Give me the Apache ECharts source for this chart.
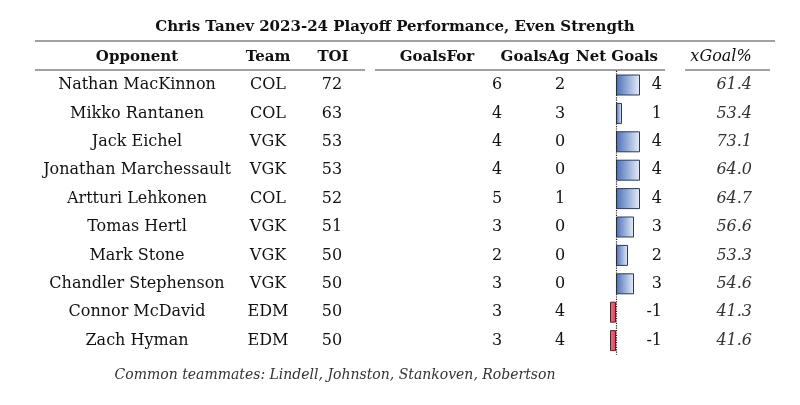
<!DOCTYPE html>
<html><head><meta charset="utf-8">
<script src="https://cdn.jsdelivr.net/npm/echarts@6/dist/echarts.min.js"></script>
<style>body{margin:0;background:#fff}#c{width:800px;height:405px}</style>
</head><body><div id="c"></div>
<script>
var opponents = ['Nathan MacKinnon', 'Mikko Rantanen', 'Jack Eichel', 'Jonathan Marchessault', 'Artturi Lehkonen', 'Tomas Hertl', 'Mark Stone', 'Chandler Stephenson', 'Connor McDavid', 'Zach Hyman'];
var teams = ['COL', 'COL', 'VGK', 'VGK', 'COL', 'VGK', 'VGK', 'VGK', 'EDM', 'EDM'];
var toi = [72, 63, 53, 53, 52, 51, 50, 50, 50, 50];
var goalsFor = [6, 4, 4, 4, 5, 3, 2, 3, 3, 3];
var goalsAg = [2, 3, 0, 0, 1, 0, 0, 0, 4, 4];
var netGoals = [4, 1, 4, 4, 4, 3, 2, 3, -1, -1];
var xGoalPct = ['61.4', '53.4', '73.1', '64.0', '64.7', '56.6', '53.3', '54.6', '41.3', '41.6'];

var chart = echarts.init(document.getElementById('c'));
var F = '"DejaVu Serif", serif';
var top0 = 85, step = 28.4;
var g = [];
function txt(x, y, s, align, opt) {
  g.push({type: 'text', x: x, y: y, style: Object.assign({text: s, fill: '#111', font: '16px ' + F, textAlign: align, textVerticalAlign: 'middle'}, opt || {})});
}
var HB = 'bold 15px ' + F;
txt(395, 27, 'Chris Tanev 2023-24 Playoff Performance, Even Strength', 'center', {font: 'bold 15px ' + F});
txt(137, 57, 'Opponent', 'center', {font: HB});
txt(268, 57, 'Team', 'center', {font: HB});
txt(333, 57, 'TOI', 'center', {font: HB});
txt(437, 57, 'GoalsFor', 'center', {font: HB});
txt(535, 57, 'GoalsAg', 'center', {font: HB});
txt(617, 57, 'Net Goals', 'center', {font: HB});
txt(721, 57, 'xGoal%', 'center', {font: 'italic 16px ' + F});
txt(335, 375, 'Common teammates: Lindell, Johnston, Stankoven, Robertson', 'center', {font: 'italic 14px ' + F, fill: '#333'});
[[35, 41, 775], [35, 70, 365], [375, 70, 665], [685, 70, 770]].forEach(function (l) {
  g.push({type: 'line', shape: {x1: l[0], y1: l[1], x2: l[2], y2: l[1]}, style: {stroke: '#444', lineWidth: 1.2}});
});
for (var i = 0; i < opponents.length; i++) {
  var y = top0 + i * step;
  txt(137, y, opponents[i], 'center');
  txt(268, y, teams[i], 'center');
  txt(332, y, String(toi[i]), 'center');
  txt(497, y, String(goalsFor[i]), 'center');
  txt(560, y, String(goalsAg[i]), 'center');
  txt(662, y, String(netGoals[i]), 'right');
  txt(752, y, xGoalPct[i], 'right', {font: 'italic 16px ' + F, fill: '#333'});
}

var posFill = new echarts.graphic.LinearGradient(0, 0, 1, 0, [{offset: 0, color: '#4a70b8'}, {offset: 1, color: '#e8eef8'}]);
var negFill = new echarts.graphic.LinearGradient(0, 0, 1, 0, [{offset: 0, color: '#e87080'}, {offset: 1, color: '#d84a5a'}]);

chart.setOption({
  animation: false,
  grid: {left: 604, width: 42, top: top0 - step / 2, height: step * 10},
  xAxis: {type: 'value', min: -2, max: 5, show: false},
  yAxis: {type: 'category', inverse: true, data: opponents, show: false},
  series: [{
    type: 'bar', barWidth: 21,
    data: netGoals.map(function (v) {
      return {value: v, itemStyle: {color: v >= 0 ? posFill : negFill, borderColor: v >= 0 ? '#2a3a56' : '#5a2028', borderWidth: 1}};
    }),
    markLine: {silent: true, symbol: 'none', label: {show: false}, lineStyle: {color: '#222', type: 'dotted', width: 1.2}, data: [{xAxis: 0}]}
  }],
  graphic: g
});
</script></body></html>
